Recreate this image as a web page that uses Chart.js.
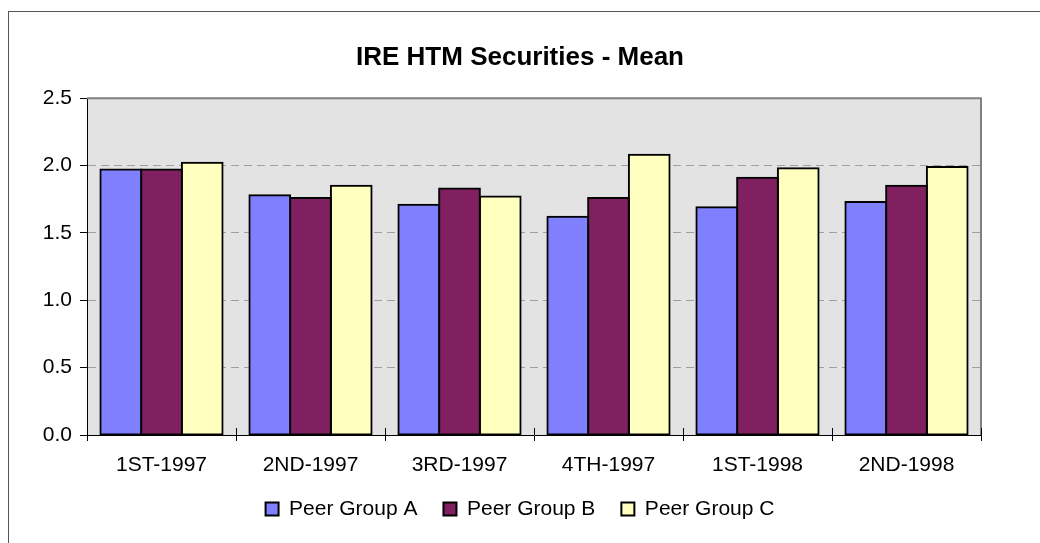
<!DOCTYPE html>
<html>
<head>
<meta charset="utf-8">
<script src="https://cdn.jsdelivr.net/npm/chart.js@4/dist/chart.umd.min.js"></script>
<style>
html,body{margin:0;padding:0;background:#fff;}
#wrap{width:1040px;height:543px;}
</style>
</head>
<body>
<div id="wrap"><canvas id="c" width="1040" height="543"></canvas></div>
<script>
const categories = ['1ST-1997','2ND-1997','3RD-1997','4TH-1997','1ST-1998','2ND-1998'];
const seriesNames = ['Peer Group A','Peer Group B','Peer Group C'];
const groupA = [1.97, 1.78, 1.71, 1.62, 1.69, 1.73];
const groupB = [1.97, 1.76, 1.83, 1.76, 1.91, 1.85];
const groupC = [2.02, 1.85, 1.77, 2.08, 1.98, 1.99];
const yTicks = [0.0, 0.5, 1.0, 1.5, 2.0, 2.5];
const titleText = 'IRE HTM Securities - Mean';

const FONT = "'Liberation Sans', Arial, sans-serif";
const colors = ['#8080FF', '#802060', '#FFFFC0'];

const decor = {
  id: 'decor',
  beforeDraw(chart) {
    const {ctx, chartArea: a} = chart;
    ctx.save();
    ctx.fillStyle = '#ffffff';
    ctx.fillRect(0, 0, chart.width, chart.height);
    ctx.strokeStyle = '#555555';
    ctx.lineWidth = 1;
    ctx.strokeRect(8.5, 11.5, chart.width + 20, chart.height + 20);
    ctx.fillStyle = '#E3E3E3';
    ctx.fillRect(a.left, a.top, a.right - a.left, a.bottom - a.top);
    ctx.restore();
  },
  beforeDatasetsDraw(chart) {
    const {ctx, chartArea: a} = chart;
    ctx.save();
    ctx.strokeStyle = '#808080';
    ctx.lineWidth = 2;
    ctx.beginPath();
    ctx.moveTo(a.left, a.top);
    ctx.lineTo(a.right, a.top);
    ctx.lineTo(a.right, a.bottom);
    ctx.stroke();
    const xs = chart.scales.x;
    const n = xs.ticks.length;
    const w = (xs.right - xs.left) / n;
    ctx.strokeStyle = '#000000';
    ctx.lineWidth = 1;
    ctx.beginPath();
    for (let i = 0; i <= n; i++) {
      const px = Math.round(xs.left + i * w) + 0.5;
      ctx.moveTo(px, a.bottom - 7);
      ctx.lineTo(px, a.bottom);
    }
    ctx.stroke();
    ctx.restore();
  }
};

const datasets = [groupA, groupB, groupC].map((d, i) => ({
  label: seriesNames[i],
  data: d,
  backgroundColor: colors[i],
  borderColor: '#000000',
  borderWidth: 2,
  borderSkipped: false,
  inflateAmount: 1,
  categoryPercentage: 0.82,
  barPercentage: 1.0,
  yAxisID: 'y'
}));

new Chart(document.getElementById('c'), {
  type: 'bar',
  data: { labels: categories, datasets },
  plugins: [decor],
  options: {
    responsive: false,
    animation: false,
    devicePixelRatio: 1,
    layout: { padding: { left: 0, right: 0, top: 0, bottom: 13.5 } },
    plugins: {
      tooltip: { enabled: false },
      title: {
        display: true,
        text: titleText,
        color: '#000000',
        font: { family: FONT, size: 26, weight: 'bold' },
        padding: { top: 42, bottom: 25 }
      },
      legend: {
        display: true,
        position: 'bottom',
        labels: {
          color: '#000000',
          font: { family: FONT, size: 21 },
          boxWidth: 13,
          boxHeight: 13,
          padding: 26
        }
      }
    },
    scales: {
      x: {
        offset: true,
        grid: {
          offset: true,
          drawOnChartArea: false,
          drawTicks: true,
          tickLength: 6,
          tickColor: '#000000'
        },
        border: { display: true, color: '#000000', width: 1 },
        ticks: {
          color: '#000000',
          font: { family: FONT, size: 21 },
          padding: 12,
          maxRotation: 0,
          autoSkip: false
        },
        afterFit(scale) { scale.height = 37.5; }
      },
      y: {
        position: 'left',
        min: 0,
        max: 2.5,
        afterBuildTicks(scale) { scale.ticks = yTicks.map(v => ({ value: v })); },
        grid: {
          color: ctx => (ctx.tick && (ctx.tick.value === 0 || ctx.tick.value === 2.5)) ? 'rgba(0,0,0,0)' : '#A0A0A0',
          lineWidth: 1,
          drawTicks: true,
          tickLength: 7,
          tickColor: '#000000',
          tickBorderDash: []
        },
        border: { display: true, color: '#000000', width: 1, dash: [8, 5] },
        ticks: {
          color: '#000000',
          font: { family: FONT, size: 21 },
          padding: 8,
          callback: v => Number(v).toFixed(1)
        },
        afterFit(scale) { scale.width = 87; }
      },
      y2: {
        position: 'right',
        display: true,
        min: 0,
        max: 2.5,
        grid: { display: false, drawOnChartArea: false, drawTicks: false },
        border: { display: false },
        ticks: { display: false },
        afterFit(scale) { scale.width = 59; }
      }
    }
  }
});
</script>
</body>
</html>
